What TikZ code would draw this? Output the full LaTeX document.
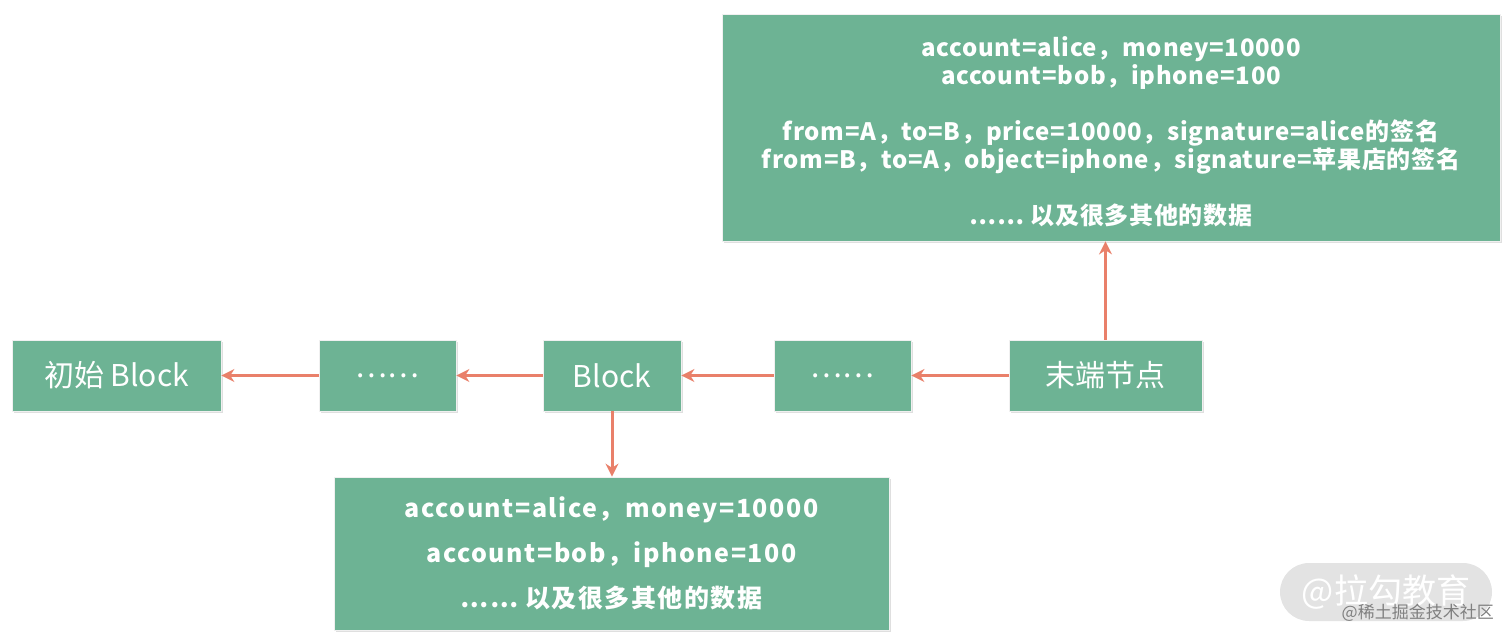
\documentclass[tikz,border=0pt]{standalone}
\usepackage{fontspec}
\setmainfont{Noto Sans CJK SC}
\usetikzlibrary{shadows,arrows.meta}
\definecolor{blockgreen}{RGB}{109,179,148}
\definecolor{linkred}{RGB}{233,128,106}
\begin{document}
\begin{tikzpicture}[x=1pt,y=-1pt,
	block/.style={rectangle, fill=blockgreen, draw=white!88!gray, line width=0.8pt, text=white, align=center, minimum height=71pt, font=\fontsize{30}{36}\selectfont, drop shadow={opacity=0.25, shadow xshift=1.5pt, shadow yshift=-1.5pt}},
	record/.style={block, font=\bfseries\fontsize{24}{28}\selectfont\addfontfeatures{LetterSpace=3}},
	link/.style={draw=linkred, line width=3pt, -{Stealth[length=13pt,width=13pt]}},
	>=stealth]
	\useasboundingbox (0,0) rectangle (1512,643);
	
	%Nodes
	\node[block, minimum width=209pt]	(first)	at (116.5,375.5) {初始 Block};
	\node[block, minimum width=137pt]	(dotsa)	at (387.5,375.5) {……};
	\node[block, minimum width=138pt]	(blk)	at (612,375.5) {Block};
	\node[block, minimum width=137pt]	(dotsb)	at (842.5,375.5) {……};
	\node[block, minimum width=193pt]	(tail)	at (1105.5,375.5) {末端节点};
	\node[record, minimum width=778pt, minimum height=227pt]	(tailrec)	at (1111,127.5) {\rule{0pt}{28pt}account=alice，money=10000\\account=bob，iphone=100\\[28pt]from=A，to=B，price=10000，signature=alice的签名\\from=B，to=A，object=iphone，signature=苹果店的签名\\[28pt]…… 以及很多其他的数据};
	\node[record, minimum width=555pt, minimum height=153pt, font=\bfseries\fontsize{25}{45}\selectfont\addfontfeatures{LetterSpace=6}]	(blkrec)	at (611.5,553.5) {account=alice，money=10000\\account=bob，iphone=100\\…… 以及很多其他的数据};
	
	%Watermark
	\node[rounded corners=29pt, fill=gray!22, minimum width=212pt, minimum height=58pt, text=white, font=\fontsize{34}{40}\selectfont]	(wmark)	at (1386,592) {@拉勾教育};
	\node[text=gray, font=\fontsize{17}{20}\selectfont, anchor=south east, inner sep=0pt]	(wsite)	at (1494,622) {@稀土掘金技术社区};
	
	%Lines
	\draw[link] (tail) -- (dotsb);
	\draw[link] (dotsb) -- (blk);
	\draw[link] (blk) -- (dotsa);
	\draw[link] (dotsa) -- (first);
	\draw[link] (tail) -- (tail |- tailrec.south);
	\draw[link] (blk) -- (blk |- blkrec.north);
\end{tikzpicture}
\end{document}
